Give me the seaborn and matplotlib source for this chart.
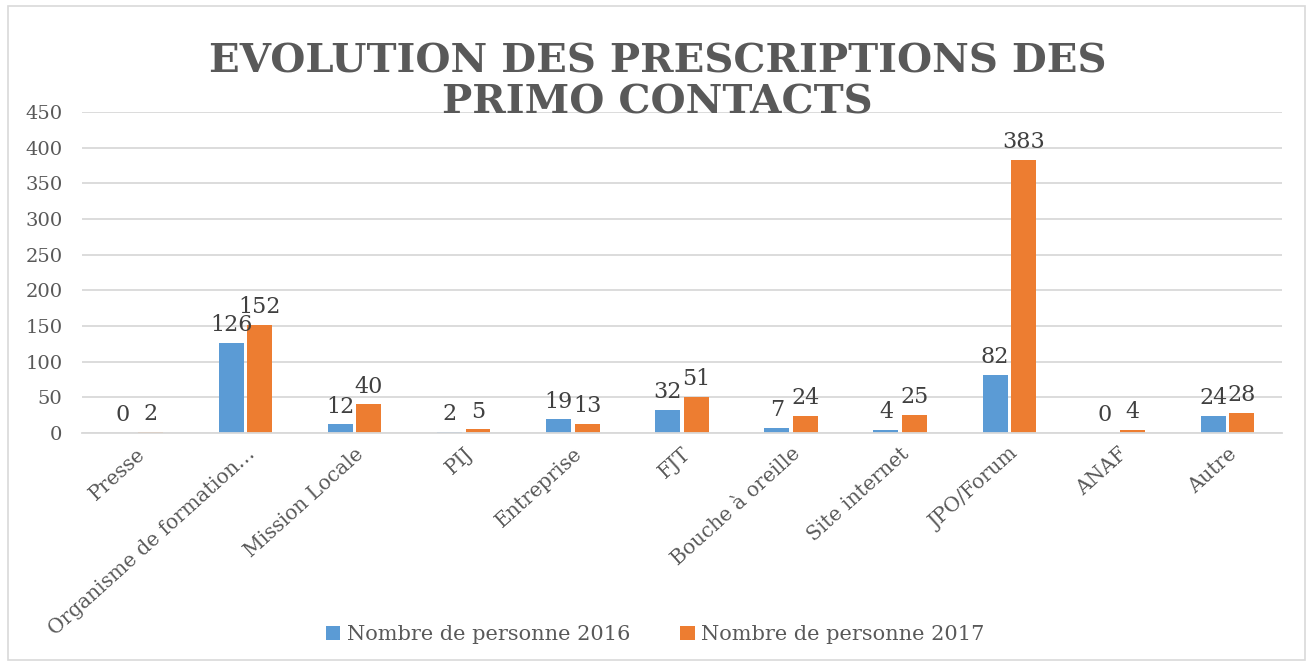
import pandas as pd
import numpy as np
import matplotlib.pyplot as plt
import seaborn as sns
from matplotlib.patches import Rectangle

# données
categories = ['Presse', 'Organisme de formation…', 'Mission Locale', 'PIJ', 'Entreprise', 'FJT',
              'Bouche à oreille', 'Site internet', 'JPO/Forum', 'ANAF', 'Autre']
valeurs_2016 = [0, 126, 12, 2, 19, 32, 7, 4, 82, 0, 24]
valeurs_2017 = [2, 152, 40, 5, 13, 51, 24, 25, 383, 4, 28]
series = ['Nombre de personne 2016', 'Nombre de personne 2017']
yticks = [0, 50, 100, 150, 200, 250, 300, 350, 400, 450]

sns.set_style("white")
plt.rcParams['font.family'] = ['DejaVu Serif']
gris = '#595959'

df = pd.DataFrame({
    'categorie': categories * 2,
    'valeur': valeurs_2016 + valeurs_2017,
    'serie': [series[0]] * len(categories) + [series[1]] * len(categories),
})

fig = plt.figure(figsize=(13.1, 6.66), dpi=100)
ax = fig.add_axes([0.0626, 0.3498, 0.916, 0.482])

sns.barplot(data=df, x='categorie', y='valeur', hue='serie', order=categories,
            palette=['#5B9BD5', '#ED7D31'], width=0.52, gap=0.12, ax=ax,
            saturation=1, edgecolor='none')

for cont in ax.containers:
    ax.bar_label(cont, padding=5, fontsize=16, color='#404040')

ax.set_ylim(0, 450)
ax.set_yticks(yticks)
ax.set_xlim(-0.5, len(categories) - 0.5)
ax.yaxis.grid(True, color='#D9D9D9', linewidth=1.3)
ax.set_axisbelow(True)
for s in ['top', 'right', 'left']:
    ax.spines[s].set_visible(False)
ax.spines['bottom'].set_color('#D9D9D9')
ax.spines['bottom'].set_linewidth(1.3)
ax.set_xlabel('')
ax.set_ylabel('')
ax.tick_params(axis='y', labelsize=14, colors=gris, length=0, pad=14)
ax.tick_params(axis='x', labelsize=14.5, colors=gris, length=0, pad=8)
plt.setp(ax.get_xticklabels(), rotation=42, ha='right', rotation_mode='anchor')

ax.legend(loc='center', bbox_to_anchor=(0.5, 0.047), bbox_transform=fig.transFigure,
          ncol=2, frameon=False, fontsize=15, labelcolor=gris, handlelength=0.7,
          handleheight=0.7, handletextpad=0.3, columnspacing=2.4)

fig.text(0.502, 0.818, 'EVOLUTION DES PRESCRIPTIONS DES\nPRIMO CONTACTS', ha='center', va='bottom',
         fontsize=29, fontweight='bold', color=gris, linespacing=1.1)

fig.patches.append(Rectangle((0.006, 0.009), 0.99, 0.982, transform=fig.transFigure,
                             fill=False, edgecolor='#D9D9D9', linewidth=1.2))

plt.savefig('out.png', dpi=100)
plt.close()
